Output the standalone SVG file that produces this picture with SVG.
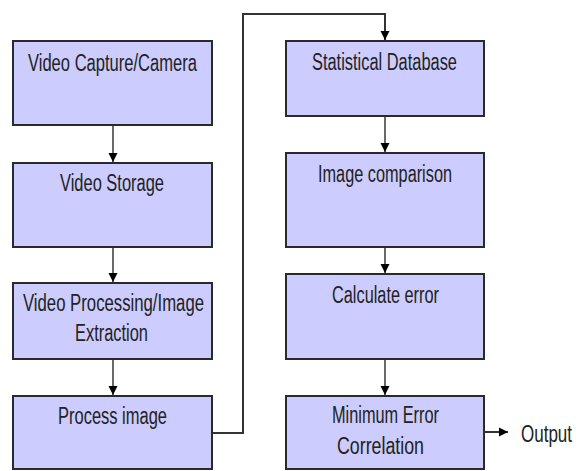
<svg xmlns="http://www.w3.org/2000/svg" width="579" height="471" viewBox="0 0 579 471">
<style>
  .box { fill: #ccccff; stroke: #2a2a2a; stroke-width: 2; }
  .t { font-family: "Liberation Sans", Arial, sans-serif; font-size: 23px; fill: #222; text-anchor: start; }
  .c { fill: none; stroke: #444; stroke-width: 1.6; }
  .cd { fill: none; stroke: #333; stroke-width: 2; }
</style>
<defs>
  <marker id="ah" viewBox="0 0 10 10" refX="10" refY="5" markerWidth="9" markerHeight="10" markerUnits="userSpaceOnUse" orient="auto">
    <path d="M0,0 L10,5 L0,10 Z" fill="#000"/>
  </marker>
</defs>
<rect width="579" height="471" fill="#ffffff"/>
<g id="connectors">
  <line class="c" x1="113" y1="125" x2="113" y2="162" marker-end="url(#ah)"/>
  <line class="c" x1="113" y1="247" x2="113" y2="282" marker-end="url(#ah)"/>
  <line class="c" x1="113" y1="359" x2="113" y2="395" marker-end="url(#ah)"/>
  <polyline class="cd" points="212,433 243,433 243,14 385,14 385,40" marker-end="url(#ah)"/>
  <line class="c" x1="385" y1="116" x2="385" y2="152" marker-end="url(#ah)"/>
  <line class="c" x1="385" y1="247" x2="385" y2="273" marker-end="url(#ah)"/>
  <line class="c" x1="385" y1="359" x2="385" y2="395" marker-end="url(#ah)"/>
  <line class="cd" x1="484" y1="432" x2="508" y2="432" marker-end="url(#ah)"/>
</g>
<g id="video-capture">
  <rect class="box" x="13" y="41" width="199" height="84"/>
  <text class="t" x="28" y="71" textLength="169" lengthAdjust="spacingAndGlyphs">Video Capture/Camera</text>
</g>
<g id="video-storage">
  <rect class="box" x="13" y="163" width="199" height="84"/>
  <text class="t" x="60" y="191" textLength="104" lengthAdjust="spacingAndGlyphs">Video Storage</text>
</g>
<g id="video-processing">
  <rect class="box" x="13" y="283" width="199" height="76"/>
  <text class="t" x="23" y="311" textLength="181" lengthAdjust="spacingAndGlyphs">Video Processing/Image</text>
  <text class="t" x="75" y="341" textLength="73" lengthAdjust="spacingAndGlyphs">Extraction</text>
</g>
<g id="process-image">
  <rect class="box" x="13" y="396" width="199" height="73"/>
  <text class="t" x="58" y="424" textLength="109" lengthAdjust="spacingAndGlyphs">Process image</text>
</g>
<g id="statistical-database">
  <rect class="box" x="286" y="41" width="198" height="75"/>
  <text class="t" x="312" y="70" textLength="145" lengthAdjust="spacingAndGlyphs">Statistical Database</text>
</g>
<g id="image-comparison">
  <rect class="box" x="286" y="153" width="198" height="94"/>
  <text class="t" x="318" y="182" textLength="134" lengthAdjust="spacingAndGlyphs">Image comparison</text>
</g>
<g id="calculate-error">
  <rect class="box" x="286" y="274" width="198" height="85"/>
  <text class="t" x="332" y="303" textLength="107" lengthAdjust="spacingAndGlyphs">Calculate error</text>
</g>
<g id="minimum-error">
  <rect class="box" x="286" y="396" width="198" height="73"/>
  <text class="t" x="332" y="423" textLength="107" lengthAdjust="spacingAndGlyphs">Minimum Error</text>
  <text class="t" x="337" y="454" textLength="87" lengthAdjust="spacingAndGlyphs">Correlation</text>
</g>
<g id="output">
  <text class="t" x="521" y="442" textLength="51" lengthAdjust="spacingAndGlyphs">Output</text>
</g>
</svg>
